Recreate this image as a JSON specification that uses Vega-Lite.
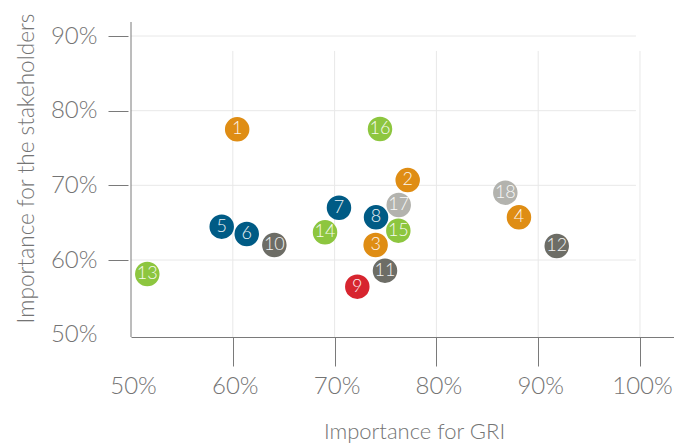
{
  "$schema": "https://vega.github.io/schema/vega-lite/v6.json",
  "width": 543,
  "height": 315,
  "autosize": {"type": "none"},
  "padding": {"left": 131, "top": 22, "right": 0, "bottom": 106},
  "background": "white",
  "config": {"view": {"stroke": null}, "font": "Lato"},
  "datasets": {
    "pts": [
      {"id": "1", "x": 60.43, "y": 77.5, "cat": "orange"},
      {"id": "16", "x": 74.46, "y": 77.55, "cat": "green"},
      {"id": "2", "x": 77.18, "y": 70.71, "cat": "orange"},
      {"id": "18", "x": 86.77, "y": 69.02, "cat": "lightgrey"},
      {"id": "17", "x": 76.3, "y": 67.37, "cat": "lightgrey"},
      {"id": "7", "x": 70.43, "y": 67.0, "cat": "blue"},
      {"id": "8", "x": 74.07, "y": 65.72, "cat": "blue"},
      {"id": "15", "x": 76.26, "y": 63.93, "cat": "green"},
      {"id": "3", "x": 74.03, "y": 62.01, "cat": "orange"},
      {"id": "4", "x": 88.11, "y": 65.72, "cat": "orange"},
      {"id": "5", "x": 58.91, "y": 64.46, "cat": "blue"},
      {"id": "6", "x": 61.37, "y": 63.48, "cat": "blue"},
      {"id": "10", "x": 64.08, "y": 62.01, "cat": "darkgrey"},
      {"id": "14", "x": 69.06, "y": 63.71, "cat": "green"},
      {"id": "13", "x": 51.6, "y": 58.13, "cat": "green"},
      {"id": "12", "x": 91.82, "y": 61.88, "cat": "darkgrey"},
      {"id": "11", "x": 74.95, "y": 58.57, "cat": "darkgrey"},
      {"id": "9", "x": 72.23, "y": 56.43, "cat": "red"}
    ],
    "gh": [
      {"y": 60, "x": 50, "x2": 99.6},
      {"y": 70, "x": 50, "x2": 99.6},
      {"y": 80, "x": 50, "x2": 99.6},
      {"y": 90, "x": 50, "x2": 99.6}
    ],
    "gv": [
      {"x": 60, "y": 49.69, "y2": 88.0},
      {"x": 70, "y": 49.69, "y2": 88.0},
      {"x": 80, "y": 49.69, "y2": 88.0},
      {"x": 90, "y": 49.69, "y2": 88.0},
      {"x": 100, "y": 49.69, "y2": 88.0}
    ],
    "yline": [
      {"x": 50, "y": 49.69, "y2": 91.875}
    ]
  },
  "encoding": {
    "x": {
      "field": "x", "type": "quantitative",
      "scale": {"domain": [50, 103.34], "nice": false, "zero": false},
      "axis": {
        "title": "Importance for GRI",
        "values": [50, 60, 70, 80, 90, 100],
        "labelExpr": "datum.value + '%'",
        "grid": false,
        "labelFlush": false,
        "labelOverlap": false,
        "domainColor": "#7a7a7a",
        "tickColor": {"condition": {"test": "datum.value === 50", "value": "transparent"}, "value": "#7a7a7a"},
        "tickSize": 29,
        "labelPadding": 27,
        "labelBaseline": "alphabetic",
        "labelFontSize": 24,
        "labelFont": "Lato",
        "labelFontWeight": 300,
        "labelColor": "#747474",
        "labelOffset": 2,
        "titleFontSize": 22,
        "titleFont": "Lato",
        "titleFontWeight": 300,
        "titleColor": "#747474",
        "titleX": 283,
        "titleY": 101,
        "titleAlign": "center",
        "titleBaseline": "alphabetic"
      }
    },
    "y": {
      "field": "y", "type": "quantitative",
      "scale": {"domain": [49.69, 91.875], "nice": false, "zero": false},
      "axis": {
        "title": "Importance for the stakeholders",
        "values": [50, 60, 70, 80, 90],
        "labelExpr": "datum.value + '%'",
        "grid": false,
        "domain": false,
        "offset": 3,
        "labelFlush": false,
        "labelOverlap": false,
        "tickColor": {"condition": {"test": "datum.value === 50", "value": "transparent"}, "value": "#7a7a7a"},
        "tickSize": 20,
        "labelPadding": 11,
        "labelFontSize": 24,
        "labelFont": "Lato",
        "labelFontWeight": 300,
        "labelColor": "#747474",
        "titleFontSize": 22.6,
        "titleFont": "Lato",
        "titleFontWeight": 300,
        "titleColor": "#747474",
        "titleX": -95,
        "titleY": 146,
        "titleAngle": -90,
        "titleAlign": "center",
        "titleBaseline": "alphabetic"
      }
    }
  },
  "layer": [
    {
      "data": {"name": "gh"},
      "mark": {"type": "rule", "color": "#e8e8e8", "strokeWidth": 1},
      "encoding": {"x2": {"field": "x2"}}
    },
    {
      "data": {"name": "gv"},
      "mark": {"type": "rule", "color": "#e8e8e8", "strokeWidth": 1},
      "encoding": {"y2": {"field": "y2"}}
    },
    {
      "data": {"name": "yline"},
      "mark": {"type": "rule", "color": "#7a7a7a", "strokeWidth": 1},
      "encoding": {"y2": {"field": "y2"}}
    },
    {
      "data": {"name": "pts"},
      "mark": {"type": "circle", "size": 600, "opacity": 1},
      "encoding": {
        "color": {
          "field": "cat", "type": "nominal", "legend": null,
          "scale": {
            "domain": ["orange", "blue", "red", "darkgrey", "green", "lightgrey"],
            "range": ["#DF8D14", "#005B85", "#D7252F", "#6D6D66", "#8DC63F", "#B3B3AE"]
          }
        }
      }
    },
    {
      "data": {"name": "pts"},
      "mark": {"type": "text", "fontSize": 18, "font": "Lato", "fontWeight": 300, "color": "white", "opacity": 0.92, "baseline": "middle", "align": "center"},
      "encoding": {"text": {"field": "id"}}
    }
  ]
}
